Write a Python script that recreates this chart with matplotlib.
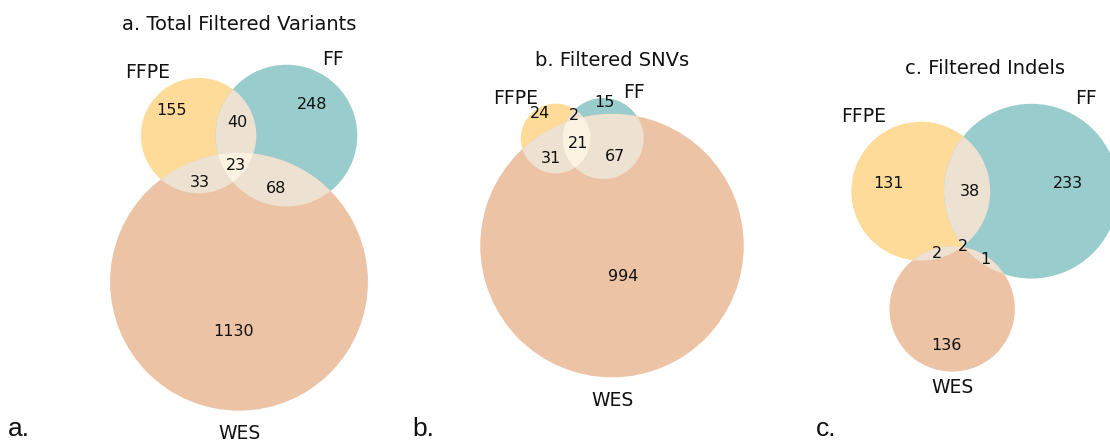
import numpy as np
import matplotlib
matplotlib.use("Agg")
import matplotlib.pyplot as plt
from matplotlib.patches import Circle, Polygon
from matplotlib.colors import to_rgb

# ---------------- data ----------------
set_names = ["FFPE", "FF", "WES"]
titles = ["a. Total Filtered Variants", "b. Filtered SNVs", "c. Filtered Indels"]
panel_tags = ["a.", "b.", "c."]
# subset order: (FFPE only, FF only, FFPE&FF, WES only, FFPE&WES, FF&WES, all three)
subset_keys = ["100", "010", "110", "001", "101", "011", "111"]
total_variants = [155, 248, 40, 1130, 33, 68, 23]
filtered_snvs = [24, 15, 2, 994, 31, 67, 21]
filtered_indels = [131, 233, 38, 136, 2, 1, 2]
panels = [total_variants, filtered_snvs, filtered_indels]

set_colors = ["orange", "teal", "chocolate"]
pair_color = "tan"
triple_color = "wheat"
ALPHA = 0.4

W, H, DPI = 1110, 441, 100


def on_white(c, a=ALPHA):
    c = np.array(to_rgb(c))
    return tuple(a * c + (1 - a))


# ---------------- geometry (area-proportional 3-set Venn) ----------------
def lens_area(r1, r2, d):
    if d >= r1 + r2:
        return 0.0
    if d <= abs(r1 - r2):
        return np.pi * min(r1, r2) ** 2
    a1 = r1 ** 2 * np.arccos(np.clip((d * d + r1 * r1 - r2 * r2) / (2 * d * r1), -1, 1))
    a2 = r2 ** 2 * np.arccos(np.clip((d * d + r2 * r2 - r1 * r1) / (2 * d * r2), -1, 1))
    a3 = 0.5 * np.sqrt(max((-d + r1 + r2) * (d + r1 - r2) * (d - r1 + r2) * (d + r1 + r2), 0))
    return a1 + a2 - a3


def dist_for_area(r1, r2, area):
    lo, hi = abs(r1 - r2), r1 + r2
    for _ in range(200):
        mid = 0.5 * (lo + hi)
        if lens_area(r1, r2, mid) > area:
            lo = mid
        else:
            hi = mid
    return 0.5 * (lo + hi)


def solve_layout(subsets):
    s = np.array(subsets, float)
    tot = s.sum()
    a = s / tot
    A_a = a[0] + a[2] + a[4] + a[6]
    A_b = a[1] + a[2] + a[5] + a[6]
    A_c = a[3] + a[4] + a[5] + a[6]
    A_ab = a[2] + a[6]
    A_bc = a[5] + a[6]
    A_ac = a[4] + a[6]
    radii = np.sqrt(np.array([A_a, A_b, A_c]) / np.pi)
    inter = [A_ab, A_bc, A_ac]
    pairs = [(0, 1), (1, 2), (2, 0)]
    dists = [dist_for_area(radii[i], radii[j], inter[k]) for k, (i, j) in enumerate(pairs)]
    for i in range(3):
        j, k = (i + 1) % 3, (i + 2) % 3
        if dists[i] > dists[j] + dists[k]:
            lo, hi = (j, k) if dists[j] < dists[k] else (k, j)
            dists[i] = dists[hi] + dists[lo] * 0.8
    d_ab, d_bc, d_ac = dists
    cx = (d_ac ** 2 - d_bc ** 2 + d_ab ** 2) / 2.0 / d_ab
    cx2 = min(cx ** 2, d_ac ** 2)
    cy = -np.sqrt(d_ac ** 2 - cx2)
    centers = np.array([[0, 0], [d_ab, 0], [cx, cy]], float)
    w = radii ** 2
    centers = centers - np.dot(w, centers) / w.sum()
    return centers, radii


def convex_intersection(centers, radii, idx, n=20000):
    th = np.linspace(0, 2 * np.pi, n, endpoint=False)
    pts = []
    for i in idx:
        p = centers[i] + radii[i] * np.column_stack([np.cos(th), np.sin(th)])
        ok = np.ones(n, bool)
        for j in idx:
            if j != i:
                ok &= np.hypot(*(p - centers[j]).T) <= radii[j]
        pts.append(p[ok])
    pts = np.vstack(pts)
    if len(pts) < 3:
        return None
    m = pts.mean(0)
    order = np.argsort(np.arctan2(pts[:, 1] - m[1], pts[:, 0] - m[0]))
    return pts[order]


def circle_crossings(c1, r1, c2, r2):
    d = np.hypot(*(c2 - c1))
    a = (r1 ** 2 - r2 ** 2 + d ** 2) / (2 * d)
    h = np.sqrt(max(r1 ** 2 - a ** 2, 0))
    base = c1 + a * (c2 - c1) / d
    perp = np.array([-(c2 - c1)[1], (c2 - c1)[0]]) / d
    return base + h * perp, base - h * perp


def label_position(centers, radii, member, n=7200):
    th = np.linspace(0, 2 * np.pi, n, endpoint=False) + np.pi / n
    acc = np.zeros(2)
    wsum = 0.0
    for i in range(3):
        p = centers[i] + radii[i] * np.column_stack([np.cos(th), np.sin(th)])
        ok = np.ones(n, bool)
        for j in range(3):
            if j != i:
                ok &= (np.hypot(*(p - centers[j]).T) < radii[j]) == member[j]
        if not ok.any():
            continue
        if ok.all():
            acc += centers[i] * 360
            wsum += 360
            continue
        start = np.where(ok & ~np.roll(ok, 1))[0]
        for s0 in start:
            L = 0
            while ok[(s0 + L) % n]:
                L += 1
            mid = (s0 + L / 2.0) % n
            ang = 2 * np.pi * mid / n
            ptm = centers[i] + radii[i] * np.array([np.cos(ang), np.sin(ang)])
            deg = L * 360.0 / n
            acc += ptm * deg
            wsum += deg
    if wsum > 0:
        return acc / wsum
    # empty region (e.g. the centre of the indel diagram): use the inner crossings
    pts = []
    for (i, j, k) in [(0, 1, 2), (1, 2, 0), (0, 2, 1)]:
        p1, p2 = circle_crossings(centers[i], radii[i], centers[j], radii[j])
        d1 = np.hypot(*(p1 - centers[k]))
        d2 = np.hypot(*(p2 - centers[k]))
        pts.append(p1 if d1 < d2 else p2)
    return np.mean(pts, 0)


# ---------------- figure ----------------
fig = plt.figure(figsize=(W / DPI, H / DPI), dpi=DPI)

slot_w_px = 311.0
panel_cx = [239.0, 612.0, 985.0]
panel_cy_top = 237.7

for k, subsets in enumerate(panels):
    centers, radii = solve_layout(subsets)
    min_x = (centers[:, 0] - radii).min() - 0.1
    max_x = (centers[:, 0] + radii).max() + 0.1
    min_y = (centers[:, 1] - radii).min() - 0.1
    max_y = (centers[:, 1] + radii).max() + 0.1
    scale = slot_w_px / (max_x - min_x)
    h_px = scale * (max_y - min_y)
    rect = [(panel_cx[k] - slot_w_px / 2) / W,
            (H - panel_cy_top - h_px / 2) / H,
            slot_w_px / W, h_px / H]
    ax = fig.add_axes(rect)
    ax.set_xlim(min_x, max_x)
    ax.set_ylim(min_y, max_y)
    ax.set_aspect("equal")
    ax.set_axis_off()

    for i in range(3):
        ax.add_patch(Circle(centers[i], radii[i], facecolor=on_white(set_colors[i]),
                            edgecolor="none", zorder=1))
    for (i, j) in [(0, 1), (0, 2), (1, 2)]:
        poly = convex_intersection(centers, radii, [i, j])
        if poly is not None:
            ax.add_patch(Polygon(poly, closed=True, facecolor=on_white(pair_color),
                                 edgecolor="none", zorder=2))
    poly = convex_intersection(centers, radii, [0, 1, 2])
    if poly is not None:
        ax.add_patch(Polygon(poly, closed=True, facecolor=on_white(triple_color),
                             edgecolor="none", zorder=3))

    for key, val in zip(subset_keys, subsets):
        member = [c == "1" for c in key]
        pos = label_position(centers, radii, member)
        ax.text(pos[0], pos[1], str(val), ha="center", va="center",
                fontsize=11.5, color="#111111", zorder=5)

    # set labels
    ax.text(centers[0][0] - 0.5 * radii[0], centers[0][1] + radii[0], set_names[0],
            ha="right", va="baseline", fontsize=13.5, color="#111111")
    ax.text(centers[1][0] + 0.5 * radii[1], centers[1][1] + radii[1], set_names[1],
            ha="left", va="baseline", fontsize=13.5, color="#111111")
    ax.text(centers[2][0], centers[2][1] - 1.1 * radii[2], set_names[2],
            ha="center", va="top", fontsize=13.5, color="#111111")

    ax.set_title(titles[k], fontsize=14, color="#111111", pad=6)

tag_pos = [(8.3, 436.0), (412.0, 436.0), (815.7, 436.5)]
for tag, (x, y) in zip(panel_tags, tag_pos):
    fig.text(x / W, (H - y) / H, tag, fontsize=19, family="Liberation Sans",
             ha="left", va="baseline", color="#111111")

fig.savefig("out.png", dpi=DPI)
